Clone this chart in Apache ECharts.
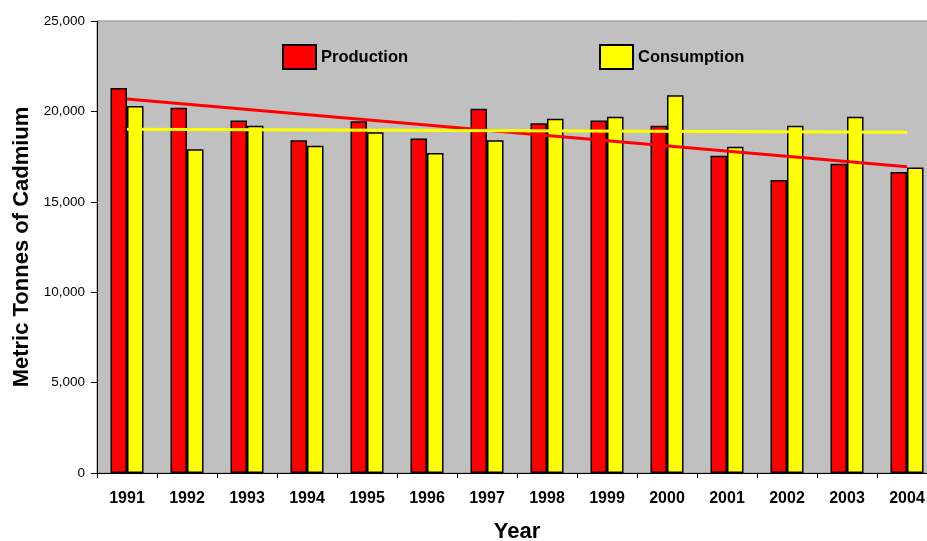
<!DOCTYPE html>
<html>
<head>
<meta charset="utf-8">
<script src="https://cdn.jsdelivr.net/npm/echarts@6/dist/echarts.min.js"></script>
<style>html,body{margin:0;padding:0;background:#fff;}#c{width:927px;height:541px;}</style>
</head>
<body>
<div id="c"></div>
<script>
const years = ['1991','1992','1993','1994','1995','1996','1997','1998','1999','2000','2001','2002','2003','2004'];
const production = [21300,20200,19500,18400,19450,18500,20150,19350,19500,19200,17550,16200,17100,16650];
const consumption = [20300,17900,19200,18100,18850,17700,18400,19600,19700,20900,18050,19200,19700,16900];
// linear trend lines, endpoints
const productionTrend = [20690,null,null,null,null,null,null,null,null,null,null,null,null,16940];
const consumptionTrend = [19010,null,null,null,null,null,null,null,null,null,null,null,null,18840];
const yTicks = [0,5000,10000,15000,20000,25000];

const FONT = 'Liberation Sans, Arial, sans-serif';
const chart = echarts.init(document.getElementById('c'));
chart.setOption({
  animation: false,
  textStyle: {fontFamily: FONT},
  grid: {left: 97, width: 840, top: 21, bottom: 68, outerBoundsMode: 'none', containLabel: false,
         show: true, backgroundColor: '#C0C0C0', borderColor: '#8C8C8C', borderWidth: 1},
  legend: [
    {data: ['Production'], left: 282, top: 44, padding: 0, itemWidth: 33, itemHeight: 24, icon: 'rect',
     textStyle: {fontFamily: FONT, fontWeight: 'bold', fontSize: 16.5, color: '#000'}},
    {data: ['Consumption'], left: 599, top: 44, padding: 0, itemWidth: 33, itemHeight: 24, icon: 'rect',
     textStyle: {fontFamily: FONT, fontWeight: 'bold', fontSize: 16.5, color: '#000'}}
  ],
  xAxis: {
    type: 'category', data: years, boundaryGap: true,
    name: 'Year', nameLocation: 'middle', nameGap: 48,
    nameTextStyle: {fontFamily: FONT, fontWeight: 'bold', fontSize: 22, color: '#000'},
    axisLine: {lineStyle: {color: '#000', width: 1}},
    axisTick: {show: true, alignWithLabel: false, length: 5, lineStyle: {color: '#000'}},
    axisLabel: {fontFamily: FONT, fontWeight: 'bold', fontSize: 16, color: '#000', margin: 18}
  },
  yAxis: {
    type: 'value', min: yTicks[0], max: yTicks[yTicks.length-1], interval: 5000,
    name: 'Metric Tonnes of Cadmium', nameLocation: 'middle', nameGap: 59,
    nameTextStyle: {fontFamily: FONT, fontWeight: 'bold', fontSize: 22, color: '#000'},
    axisLine: {show: true, lineStyle: {color: '#000', width: 1}},
    axisTick: {show: true, length: 6, lineStyle: {color: '#000'}},
    splitLine: {show: false},
    axisLabel: {fontFamily: FONT, fontSize: 13.5, color: '#000', margin: 12,
      formatter: v => v.toLocaleString('en-US')}
  },
  series: [
    {name: 'Production', type: 'bar', data: production, barWidth: 16.5, barGap: '0%',
     itemStyle: {color: '#FF0000', borderColor: '#000', borderWidth: 1.5}},
    {name: 'Consumption', type: 'bar', data: consumption, barWidth: 16.5, barGap: '0%',
     itemStyle: {color: '#FFFF00', borderColor: '#000', borderWidth: 1.5}},
    {name: 'Production trend', type: 'line', data: productionTrend, connectNulls: true, symbol: 'none',
     lineStyle: {color: '#FF0000', width: 3}, z: 5},
    {name: 'Consumption trend', type: 'line', data: consumptionTrend, connectNulls: true, symbol: 'none',
     lineStyle: {color: '#FFFF00', width: 3}, z: 6}
  ]
});
</script>
</body>
</html>
